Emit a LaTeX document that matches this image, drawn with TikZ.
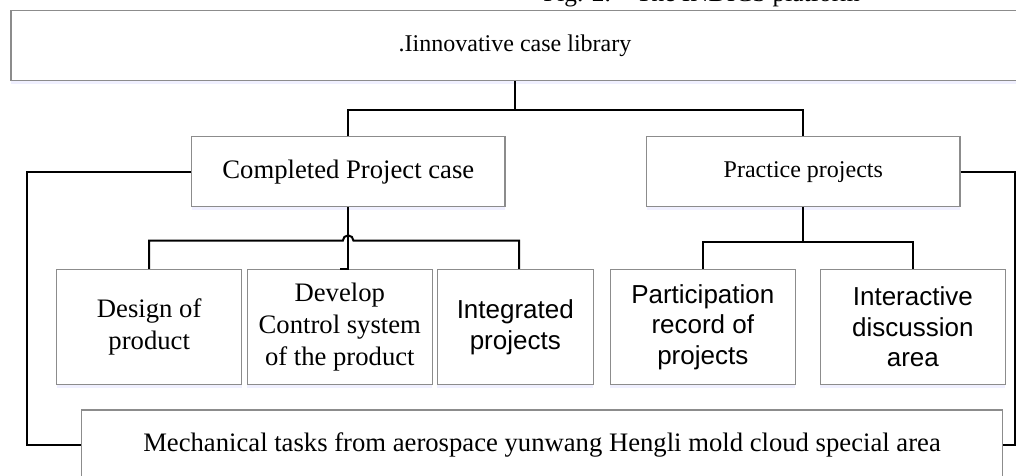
\documentclass[tikz,border=0pt]{standalone}
\usepackage{fontspec}
\setmainfont{Liberation Serif}
\newfontfamily\arialfont{Liberation Sans}
\usetikzlibrary{shadows}

\begin{document}
\begin{tikzpicture}[
  x=0.75pt, y=-0.75pt,
  libbox/.style = {draw=black!45, fill=white, line width=0.8pt, inner sep=0pt,
    drop shadow={fill=blue!6, opacity=1, shadow xshift=0pt, shadow yshift=-2.5pt}},
  serifbox/.style = {libbox, align=center, font=\fontsize{20}{24}\selectfont},
  sansbox/.style = {libbox, align=center, font=\arialfont\fontsize{19.5}{23}\selectfont},
  wide/.style = {minimum width=235pt, minimum height=52.5pt},
  leaf/.style = {minimum width=138.75pt, minimum height=86.25pt},
  link/.style = {line width=1.5pt}
]
  \useasboundingbox (0,0) rectangle (1016,475);
  % caption cut by the page edge
  \node[anchor=base west, inner sep=0pt, font=\fontsize{19}{21}\selectfont] (caption) at (543,1.5) {Fig. 2.\quad The INDICS platform};
  % levels of the library
  \node[serifbox, font=\fontsize{18}{22}\selectfont, minimum width=756pt, minimum height=52.5pt] (lib) at (515,45.5) {.Iinnovative case library};
  \node[serifbox, wide] (comp) at (348.3,171.7) {Completed Project case};
  \node[serifbox, wide, font=\fontsize{18}{22}\selectfont] (prac) at (803.3,171.7) {Practice projects};
  \node[serifbox, leaf] (design) at (149.2,327) {Design of\\product};
  \node[serifbox, leaf] (dev) at (339.8,327) {Develop\\Control system\\of the product};
  \node[sansbox, leaf, minimum width=117pt] (integ) at (515.3,327) {Integrated\\projects};
  \node[sansbox, leaf] (partic) at (702.8,327) {Participation\\record of\\projects};
  \node[sansbox, leaf] (inter) at (912.8,327) {Interactive\\discussion\\area};
  \node[serifbox, minimum width=690.5pt, minimum height=52.5pt] (mech) at (542,445) {Mechanical tasks from aerospace yunwang Hengli mold cloud special area};
  % turning points
  \coordinate (libsplit) at (515,110);
  \coordinate (hopL) at (342.8,240.7);
  \coordinate (pracsplit) at (803.3,241.7);
  \coordinate (lturn) at (26.7,445);
  \coordinate (rturn) at (1014.5,445);
  % connectors
  \draw[link] (lib.south) -- (libsplit);
  \draw[link] (comp.north) |- (libsplit) -| (prac.north);
  \draw[link] (comp.south) |- (dev.north);
  \draw[link] (design.north) |- (hopL) arc[start angle=180, end angle=0, radius=4pt] -| ([xshift=2.8pt]integ.north);
  \draw[link] (prac.south) -- (pracsplit);
  \draw[link] (partic.north) |- (pracsplit) -| (inter.north);
  \draw[link] (comp.west) -| (lturn) -- (mech.west);
  \draw[link] (prac.east) -| (rturn) -- (mech.east);
\end{tikzpicture}
\end{document}
